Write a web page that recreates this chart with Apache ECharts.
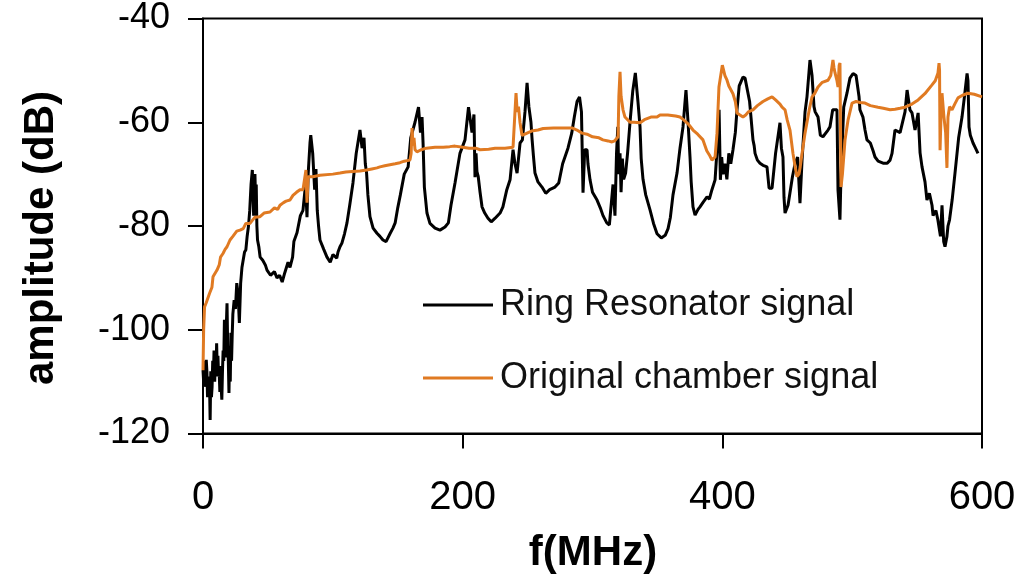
<!DOCTYPE html>
<html>
<head>
<meta charset="utf-8">
<script src="https://cdn.jsdelivr.net/npm/echarts@6/dist/echarts.min.js"></script>
<style>
html,body{margin:0;padding:0;background:#fff;}
#chart{width:1023px;height:576px;}
</style>
</head>
<body>
<div id="chart"></div>
<script>
// ---- data (frequency in MHz, amplitude in dB) ----
var seriesNames = ["Ring Resonator signal", "Original chamber signal"];
var xTicks = [0, 200, 400, 600];
var yTicks = [-120, -100, -80, -60, -40];

var ringF = [0,0.5,1,1.5,2,2.5,3,3.5,4,4.5,5,5.5,6,6.5,7,7.5,8,8.5,9,9.5,10,10.5,11,11.5,12,12.5,13,13.5,14,14.5,15,15.5,16,16.5,17,17.5,18,18.5,19,19.5,20,20.5,21,21.5,22,22.5,23,24,25,26,27,28,29,30,31,32,33,34,35,36,37,38,39,40,40.5,41,41.5,42,43,44,46,48,49.3,52,55,57,59,61,63,65.5,67,69,70,72.4,75,77,79,80.1,81,82.4,83,84.5,86,87,88,89,90.1,93,95.5,98,100.1,103,104,105.5,107,109,110.9,113,115.5,118,120.9,122.5,124,125,126,127,128.6,131,134,136.3,138.6,141,144,146.3,148,150,152,155,158,160,163.3,166,167.5,168.7,169.5,170.5,172.5,174.8,178.7,182.5,186.4,189,191,194.1,197.9,201.8,204.5,207.2,208.7,209.5,210.3,211,212,213.4,214.9,217,219.5,222,225,228.8,231,234,236.5,238.8,240.3,241.9,243,244.2,246,248,249.6,251,252.6,253.5,254.5,255.7,258,261.1,264,267,271.1,274,277,281.1,284,286,288.1,290,291.5,292.7,294,295.8,296.5,298.1,300,303.5,306,308.1,311,313,315.8,317.3,318.5,319.5,320.2,321.2,322,323,324,325.5,327,328.9,331,333,335,336.6,337.5,338.9,341,344.3,347,349.7,353,356,358.2,360,362,365.1,367.4,369.7,372,373.6,375.1,376,377.4,379,381.3,382.8,385,388.2,390,392,394.4,396,397.5,398.5,399.5,400.5,402,403.5,405,406.5,408.2,410,411.3,413,415.9,417.5,419,421,423.6,424.5,425.2,427,429,431.3,434.4,436,438.3,439,441,444.4,445.5,446.7,447.5,448.3,450.6,452.1,454,456,458,459.8,461.4,463.7,465.2,467.5,469.1,470.6,471.5,473.7,475.5,477.5,481.4,482.9,485,488.3,489.1,490.6,491.4,492.2,493.5,496,498.3,500.7,503,505.3,506,508.3,509.9,511.4,514,516.1,517.6,520,523.8,527,529.2,530.7,533,536.9,540.7,542.3,544.5,546.1,548.4,550.8,552.3,553.8,556.1,557.6,559.5,561.5,562.3,564.5,566,568,569.2,570.5,571.5,573,573.8,575,577,579.2,582,584.6,586.5,588.5,589.2,590,591,593.1,595,596.9,598.5,600];
var ringA = [-107.8,-110,-106,-111,-110,-105.8,-108,-113,-109,-112,-110,-117.4,-108,-113,-111,-106,-109,-104,-110,-106,-109,-102.6,-108,-105,-109,-108.4,-112,-107,-111,-113.5,-108,-104,-106,-98.1,-104,-105.3,-99,-94.9,-103,-106,-112.2,-104,-110,-100.6,-106,-101,-97,-94.3,-96,-91,-93,-98.7,-91,-88,-87.9,-85,-84.6,-82,-80.1,-77,-72,-69.2,-78,-70,-75,-72,-80,-82.7,-84,-86,-86.6,-87.5,-88.5,-89.5,-88.8,-90,-89.5,-90.8,-89,-87,-88,-86,-83,-81.3,-78,-77,-72,-78.3,-70,-64,-62.5,-66,-73,-69,-77,-80,-82.7,-84.5,-86,-87,-85.5,-86.2,-85,-84,-83.3,-81.5,-79.4,-76,-71.7,-66,-61.5,-65,-63,-68,-69.8,-74,-78.2,-80.4,-81.4,-82,-82.7,-83,-81.5,-80.4,-79.4,-76.5,-74,-70,-68.6,-63,-60,-57.1,-62,-59,-64,-72.5,-77.5,-79.5,-80.4,-80.8,-80.2,-79.4,-76,-71.7,-66,-63.4,-57.1,-62,-58.5,-70.6,-66,-69.5,-70.5,-73.5,-76.3,-77.5,-78.5,-79.2,-78.5,-77.5,-76.3,-73,-71.1,-65.3,-68,-69.8,-67,-64,-63.4,-58,-52.4,-57,-60,-63.4,-66.5,-69.8,-71.5,-72.5,-73.7,-73,-72.5,-71.7,-68,-65,-62.1,-59,-56,-55.1,-58,-73.6,-65.3,-65.3,-68,-71.1,-73.5,-75,-76.5,-78,-79.4,-79.8,-72,-78,-66,-60.9,-70,-66,-73.5,-67,-71,-69.8,-66,-60,-54,-50.5,-56,-60.9,-67,-71,-74,-76.9,-79.5,-81.5,-82.3,-81.8,-80.5,-78.3,-74,-69.8,-65,-60.9,-53.8,-60,-66.7,-71.5,-76.3,-77.9,-76.8,-76.3,-75.5,-74.4,-74.8,-73,-71.1,-65,-57.6,-71.1,-66.7,-70,-68,-71,-66,-68,-65.3,-62,-57.6,-53,-51.3,-51.5,-51.3,-56,-63.4,-64.5,-66,-67.3,-67.9,-68.3,-68.6,-72.7,-72.7,-72.7,-66,-60.1,-65,-66.7,-74.5,-77.5,-76,-73.6,-70.5,-68,-66.7,-75.6,-67.3,-58,-55.1,-48,-51,-57,-58,-59,-62.5,-62.8,-61.5,-60.9,-57.6,-57.6,-73.1,-78.8,-70,-65.3,-57.1,-54.4,-51.5,-50.6,-51,-55.1,-57.6,-59,-61.5,-63.4,-64,-65.5,-66.7,-67.5,-67.9,-67.9,-67.3,-66,-61.5,-62,-58,-53.8,-57.6,-58.2,-61.5,-58.2,-65.9,-68.6,-71.5,-75,-73.7,-76,-78,-77,-78.8,-82,-76,-83,-84,-82,-80,-78.8,-75,-69.8,-63,-59,-55,-50.6,-52,-60.9,-62.5,-64,-65,-66];

var chamberF = [0,0.5,1.2,2.5,3.9,5,6.9,7.7,9,10.8,12.5,13.5,15.4,17,18.5,20.8,23,24.5,26,28.5,31,33,36.2,40,43.9,47,51.6,55,57.5,59.3,62,64,67,69.3,72,74.7,77,78.5,79.3,80.1,81,84.7,90,100,105.5,110,115,120.9,126,130,134,136.3,140,144,148,151.7,155,159.4,160.3,161,161.8,162.5,163.3,164.8,168,172,178.7,185,190,194.1,200,205,210,213.4,220,225,230,232.6,238.8,240.3,241.1,242,243,244.2,245.7,248,249.6,253,258,262,270,280,284.2,288,291.9,295.8,300,305,308,312,315,317,319.7,320.3,321.2,322,323.5,325,326.5,328.9,332,336.6,340,345,349.7,352,358,364,367.4,370,373.6,377.4,381,385.1,388,390,392,393.5,394.4,395.9,397.4,398.2,400,401,402,403.6,405,408.2,410,411.3,413,415.9,418,420,423.6,427,431.3,435,438.3,441,444.4,446,448.3,450,452.1,454.4,456,457.5,459,460,461.4,463.7,467,469.1,471,473.7,477,481.4,483.5,485.2,486,486.8,488.3,489.1,490,490.6,491.4,492.5,494.5,496.8,499.9,503,506,509.9,514,519.9,524,529.2,533,536.9,540.7,546,550.8,556,561.5,564,566.1,566.9,567.3,567.7,568.5,569.2,570.7,572,573,573.8,575,576.9,579,581.5,585,589.2,594,600];
var chamberA = [-107.8,-100,-95.6,-94.8,-95,-93,-91.8,-89.8,-90,-88.5,-87.5,-86,-85.3,-84.5,-84,-82.7,-82,-82.2,-81,-80.8,-80.5,-79.5,-79.5,-78.3,-78.2,-77.5,-77.3,-76.5,-76.8,-76,-75.5,-75.2,-75,-74.1,-73.5,-73,-73,-73,-69.2,-75.5,-70.5,-70.5,-70.2,-70,-69.8,-69.6,-69.5,-69.4,-69.2,-69,-68.8,-68.6,-68.4,-68.2,-68,-67.8,-67.5,-67.3,-66,-61.1,-64.5,-63,-65.3,-65.7,-65.3,-65,-64.8,-64.8,-64.7,-64.6,-64.8,-65,-65,-65.3,-65.2,-65,-65,-65,-64.8,-64.6,-54.4,-58,-57,-60.1,-62.5,-62.3,-62.1,-61.7,-61.5,-61.2,-61.1,-61.1,-61.1,-61.5,-62.1,-62.3,-62.8,-63,-63.4,-63.6,-63.8,-63.6,-62.8,-55,-50.3,-55,-57.6,-59,-59.2,-60,-60,-60.1,-59.5,-59,-59,-58.6,-58.6,-58.8,-59,-59.5,-60.3,-61.5,-62.3,-63.4,-65.5,-66.3,-67.3,-67.5,-66.7,-62.1,-53.2,-51.9,-49,-49.3,-51,-51.9,-53,-54.5,-56,-58.2,-58.5,-59,-58.6,-58,-57.6,-56.8,-56,-55.5,-55.1,-55.7,-56.5,-57.1,-57.6,-59.6,-61.5,-66,-68.5,-70.5,-70,-68.6,-66,-62.1,-57.5,-55.1,-54.5,-53.2,-52.3,-51.9,-51,-48,-49.5,-50.5,-52,-53.2,-49,-48.6,-72.5,-70,-63.4,-59.6,-56.3,-56,-56.2,-56.3,-56.8,-57.1,-57.3,-57.6,-57.5,-57.3,-57.1,-56.5,-55.7,-54.5,-52.8,-52,-50.5,-48.6,-50,-65.4,-58,-54.4,-59,-62,-68.8,-59,-57,-57.6,-56.5,-55.3,-54.8,-54.4,-54.6,-55.1];

function zip(a, b) { var out = []; for (var i = 0; i < a.length; i++) out.push([a[i], b[i]]); return out; }

var chart = echarts.init(document.getElementById('chart'), null, {renderer: 'canvas'});
var FONT = 'Liberation Sans, Arial, Helvetica, sans-serif';
var option = {
  animation: false,
  backgroundColor: '#ffffff',
  grid: {left: 203, right: 41, top: 18.5, bottom: 142.5, show: true, borderColor: '#000', borderWidth: 2, backgroundColor: 'transparent'},
  xAxis: {
    type: 'value', min: xTicks[0], max: xTicks[xTicks.length - 1], interval: 200,
    axisLine: {show: true, onZero: false, lineStyle: {color: '#000', width: 2}},
    axisTick: {show: true, inside: false, length: 15, lineStyle: {color: '#000', width: 2}},
    axisLabel: {color: '#000', fontSize: 40, fontFamily: FONT, margin: 44},
    splitLine: {show: false}
  },
  yAxis: {
    type: 'value', min: yTicks[0], max: yTicks[yTicks.length - 1], interval: 20,
    axisLine: {show: true, onZero: false, lineStyle: {color: '#000', width: 2}},
    axisTick: {show: true, inside: false, length: 15, lineStyle: {color: '#000', width: 2}},
    axisLabel: {color: '#000', fontSize: 36, fontFamily: FONT, margin: 33},
    splitLine: {show: false}
  },
  legend: {
    orient: 'vertical', left: 423, top: 287, itemWidth: 70, itemHeight: 3, itemGap: 37, padding: 0,
    icon: 'rect',
    data: [
      {name: seriesNames[0], itemStyle: {color: '#000'}},
      {name: seriesNames[1], itemStyle: {color: '#E07A22'}}
    ],
    textStyle: {color: '#111', fontSize: 36, lineHeight: 36, fontFamily: FONT, padding: [0, 0, 0, 2]}
  },
  graphic: [
    {type: 'text', x: 593, y: 553, style: {text: 'f(MHz)', font: 'bold 42px ' + FONT, fill: '#000', textAlign: 'center', textVerticalAlign: 'middle'}},
    {type: 'text', x: 41, y: 238, rotation: Math.PI / 2, style: {text: 'amplitude (dB)', font: 'bold 42px ' + FONT, fill: '#000', textAlign: 'center', textVerticalAlign: 'middle'}}
  ],
  series: [
    {name: seriesNames[0], type: 'line', data: zip(ringF, ringA), symbol: 'none', showSymbol: false, lineStyle: {color: '#000', width: 3}, itemStyle: {color: '#000'}, z: 2},
    {name: seriesNames[1], type: 'line', data: zip(chamberF, chamberA), symbol: 'none', showSymbol: false, lineStyle: {color: '#E07A22', width: 3}, itemStyle: {color: '#E07A22'}, z: 3}
  ]
};
chart.setOption(option);
</script>
</body>
</html>
